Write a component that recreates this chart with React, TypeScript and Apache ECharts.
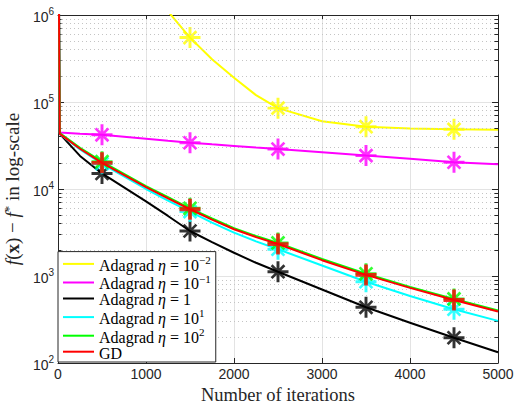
import React, { useEffect, useRef } from 'react';
import * as echarts from 'echarts';

// ---------------- data ----------------
const ITERS = [0, 20, 250, 500, 1000, 1250, 1500, 1750, 2000, 2250, 2500, 3000, 3500, 4000, 4500, 5000];
const MARK_ITERS = [500, 1500, 2500, 3500, 4500];

const ADA_EM2 = [1e8, 5e7, 2e7, 1e7, 2.5e6, 1.1e6, 5.5e5, 3.1e5, 1.9e5, 1.2e5, 8.5e4, 6.0e4, 5.2e4, 4.95e4, 4.85e4, 4.8e4];
const ADA_EM1 = [1e8, 4.45e4, 4.32e4, 4.2e4, 3.78e4, 3.58e4, 3.4e4, 3.26e4, 3.13e4, 3.0e4, 2.88e4, 2.64e4, 2.42e4, 2.22e4, 2.03e4, 1.92e4];
const ADA_E0 = [1e8, 4.3e4, 2.4e4, 1.51e4, 7.2e3, 4.9e3, 3.29e3, 2.45e3, 1.85e3, 1.42e3, 1.12e3, 7.0e2, 4.37e2, 2.9e2, 1.95e2, 1.33e2];
const ADA_E1 = [1e8, 4.3e4, 2.85e4, 1.95e4, 1.0e4, 7.35e3, 5.5e3, 4.1e3, 3.15e3, 2.5e3, 2.03e3, 1.32e3, 8.6e2, 5.9e2, 4.15e2, 3.05e2];
const ADA_E2 = [1e8, 4.4e4, 2.98e4, 2.06e4, 1.08e4, 8.05e3, 6.0e3, 4.58e3, 3.55e3, 2.88e3, 2.4e3, 1.57e3, 1.06e3, 7.5e2, 5.45e2, 4.02e2];
const GD = [1e8, 4.3e4, 2.9e4, 2.0e4, 1.05e4, 7.8e3, 5.85e3, 4.45e3, 3.45e3, 2.8e3, 2.33e3, 1.52e3, 1.03e3, 7.3e2, 5.3e2, 3.9e2];

const SERIES_NAMES = ['Adagrad η=1e-2', 'Adagrad η=1e-1', 'Adagrad η=1', 'Adagrad η=1e1', 'Adagrad η=1e2', 'GD'];
const LEGEND_EXP = ['−2', '−1', '', '1', '2', ''];
const SERIES_VALUES = [ADA_EM2, ADA_EM1, ADA_E0, ADA_E1, ADA_E2, GD];

const X_MIN = 0;
const X_MAX = 5000;
const X_INTERVAL = 1000;
const Y_MIN = 100;
const Y_MAX = 1e6;
const DECADES = [1e2, 1e3, 1e4, 1e5];
const MINOR_MULTS = [2, 3, 4, 5, 6, 7, 8, 9];

// ---------------- styles ----------------
const COLORS = ['#ffff00', '#ff00ff', '#000000', '#00ffff', '#00ff00', '#ff0000'];
const ASTERISK =
  'path://M43 0L57 0L57 100L43 100Z M0 43L100 43L100 57L0 57Z M15 24L24 15L85 76L76 85Z M76 15L85 24L24 85L15 76Z';
const PLUS = 'path://M41 0L59 0L59 100L41 100Z M0 41L100 41L100 59L0 59Z';
const SYMBOLS = [ASTERISK, ASTERISK, ASTERISK, ASTERISK, ASTERISK, PLUS];

const SANS = '"Liberation Sans", Arial, Helvetica, sans-serif';
const SERIF = '"Liberation Serif", "Times New Roman", serif';
const AXIS_COLOR = '#262626';
const GRID_COLOR = '#e3e3e3';

export default function App() {
  const ref = useRef<HTMLDivElement>(null);

  useEffect(() => {
    if (!ref.current) return;
    document.body.style.margin = '0';
    const chart = echarts.init(ref.current, null, { renderer: 'svg' });

    const minorVals: number[] = [];
    DECADES.forEach((d) => MINOR_MULTS.forEach((m) => minorVals.push(d * m)));

    const series: any[] = [];
    SERIES_NAMES.forEach((name, i) => {
      const vals = SERIES_VALUES[i];
      series.push({
        name,
        type: 'line',
        data: ITERS.map((it, k) => [it, vals[k]]),
        symbol: 'none',
        smooth: false,
        lineStyle: { color: COLORS[i], width: 2 },
        itemStyle: { color: COLORS[i] },
        clip: true,
        z: 3 + i * 2,
      });
      series.push({
        name: name + '_mk',
        type: 'scatter',
        data: MARK_ITERS.map((it) => [it, vals[ITERS.indexOf(it)]]),
        symbol: SYMBOLS[i],
        symbolSize: 21,
        itemStyle: { color: COLORS[i] },
        z: 4 + i * 2,
        silent: true,
      });
    });

    // minor grid + minor ticks
    series.push({
      name: '_minor',
      type: 'line',
      data: [],
      silent: true,
      z: 1,
      markLine: {
        silent: true,
        symbol: 'none',
        label: { show: false },
        animation: false,
        lineStyle: { color: '#c4c4c4', width: 1, type: [1, 3] },
        data: minorVals.map((v) => ({ yAxis: v })),
      },
    });
    series.push({
      name: '_minorTicks',
      type: 'line',
      data: [],
      silent: true,
      z: 2,
      markLine: {
        silent: true,
        symbol: 'none',
        label: { show: false },
        animation: false,
        lineStyle: { color: AXIS_COLOR, width: 1, type: 'solid' },
        data: [
          ...minorVals.map((v) => [{ coord: [X_MIN, v] }, { coord: [X_MIN + 40, v] }]),
          ...minorVals.map((v) => [{ coord: [X_MAX - 40, v] }, { coord: [X_MAX, v] }]),
        ],
      },
    });

    const labelRich = {
      b: { fontFamily: SANS, fontSize: 14, color: AXIS_COLOR, lineHeight: 18, verticalAlign: 'bottom' },
      s: { fontFamily: SANS, fontSize: 10, color: AXIS_COLOR, lineHeight: 10, verticalAlign: 'top' },
    };

    const serifRich = {
      n: { fontFamily: SERIF, fontSize: 19, color: AXIS_COLOR, lineHeight: 20, verticalAlign: 'bottom' },
      it: { fontFamily: SERIF, fontSize: 19, fontStyle: 'italic', color: AXIS_COLOR, lineHeight: 20, verticalAlign: 'bottom' },
      bx: { fontFamily: SERIF, fontSize: 19, fontWeight: 'bold', color: AXIS_COLOR, lineHeight: 20, verticalAlign: 'bottom' },
      sup: { fontFamily: SERIF, fontSize: 13, color: AXIS_COLOR, lineHeight: 12, verticalAlign: 'top' },
    };

    const legendRich = {
      t: { fontFamily: SERIF, fontSize: 16, color: '#000', lineHeight: 18.6, verticalAlign: 'bottom' },
      e: { fontFamily: SERIF, fontSize: 16, fontStyle: 'italic', color: '#000', lineHeight: 18.6, verticalAlign: 'bottom' },
      s: { fontFamily: SERIF, fontSize: 11, color: '#000', lineHeight: 11, verticalAlign: 'top' },
    };

    chart.setOption({
      animation: false,
      backgroundColor: '#ffffff',
      grid: { left: 58, right: 16, top: 15, bottom: 39, containLabel: false, outerBoundsMode: 'none' },
      xAxis: [
        {
          type: 'value',
          min: X_MIN,
          max: X_MAX,
          interval: X_INTERVAL,
          position: 'bottom',
          name: 'Number of iterations',
          nameLocation: 'middle',
          nameGap: 18,
          nameTextStyle: { fontFamily: SERIF, fontSize: 18.5, color: AXIS_COLOR, lineHeight: 18 },
          axisLine: { show: true, lineStyle: { color: AXIS_COLOR, width: 1 } },
          axisTick: { show: true, inside: true, length: 5, lineStyle: { color: AXIS_COLOR } },
          axisLabel: { fontFamily: SANS, fontSize: 14, color: AXIS_COLOR, margin: 4, formatter: (v: number) => String(v) },
          splitLine: { show: true, lineStyle: { color: GRID_COLOR, width: 1 } },
        },
        {
          type: 'value',
          min: X_MIN,
          max: X_MAX,
          interval: X_INTERVAL,
          position: 'top',
          axisLine: { show: true, onZero: false, lineStyle: { color: AXIS_COLOR, width: 1 } },
          axisTick: { show: true, inside: true, length: 5, lineStyle: { color: AXIS_COLOR } },
          axisLabel: { show: false },
          splitLine: { show: false },
        },
      ],
      yAxis: [
        {
          type: 'log',
          logBase: 10,
          min: Y_MIN,
          max: Y_MAX,
          position: 'left',
          name: '{it|f}{n|(}{bx|x}{n|) − }{it|f}{sup|*}{n| in log-scale}',
          nameLocation: 'middle',
          nameRotate: 90,
          nameGap: 28,
          nameTextStyle: { rich: serifRich },
          axisLine: { show: true, onZero: false, lineStyle: { color: AXIS_COLOR, width: 1 } },
          axisTick: { show: true, inside: true, length: 6, lineStyle: { color: AXIS_COLOR } },
          axisLabel: {
            margin: 4,
            formatter: (v: number) => '{b|10}{s|' + Math.round(Math.log10(v)) + '}',
            rich: labelRich,
          },
          splitLine: { show: true, lineStyle: { color: GRID_COLOR, width: 1 } },
        },
        {
          type: 'log',
          logBase: 10,
          min: Y_MIN,
          max: Y_MAX,
          position: 'right',
          axisLine: { show: true, onZero: false, lineStyle: { color: AXIS_COLOR, width: 1 } },
          axisTick: { show: true, inside: true, length: 6, lineStyle: { color: AXIS_COLOR } },
          axisLabel: { show: false },
          splitLine: { show: false },
        },
      ],
      legend: {
        data: SERIES_NAMES,
        orient: 'vertical',
        left: 58,
        bottom: 40,
        z: 30,
        padding: [3, 5, 1, 5],
        icon: 'rect',
        itemWidth: 31,
        itemHeight: 2,
        itemGap: 0,
        backgroundColor: '#ffffff',
        borderColor: AXIS_COLOR,
        borderWidth: 1,
        borderRadius: 0,
        selectedMode: false,
        formatter: (name: string) => {
          const i = SERIES_NAMES.indexOf(name);
          if (i === 5) return '{t|GD}';
          if (LEGEND_EXP[i] === '') return '{t|Adagrad }{e|η}{t| = 1}';
          return '{t|Adagrad }{e|η}{t| = 10}{s|' + LEGEND_EXP[i] + '}';
        },
        textStyle: { rich: legendRich, padding: [0, 0, 0, 0] },
      },
      series,
    });

    return () => chart.dispose();
  }, []);

  return <div ref={ref} style={{ width: 514, height: 402 }} />;
}
